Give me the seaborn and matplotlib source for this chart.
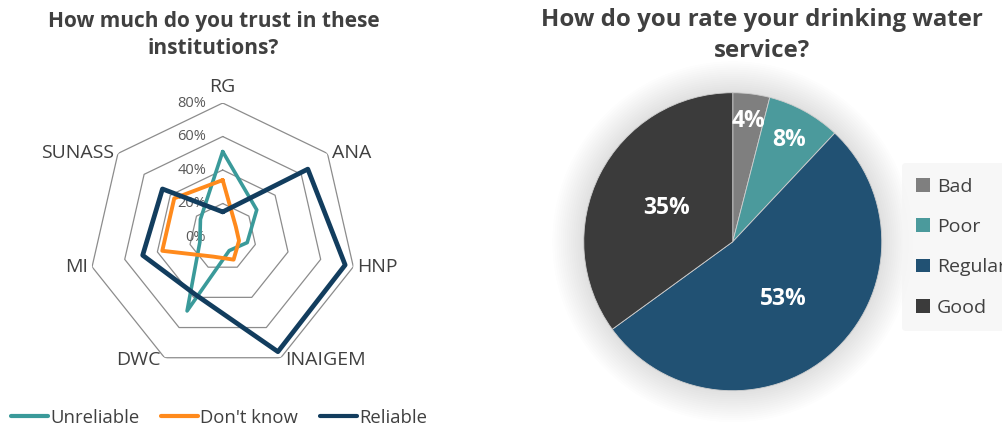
import numpy as np
import matplotlib
matplotlib.use("Agg")
import matplotlib.pyplot as plt
from matplotlib.lines import Line2D
from matplotlib.patches import Patch, Circle
import seaborn as sns

# radar data (% of answers per institution)
institutions = ["RG", "ANA", "HNP", "INAIGEM", "DWC", "MI", "SUNASS"]
unreliable = [51, 26, 15, 9, 49, 14, 17]
dont_know = [34, 10, 10, 15, 13, 37, 37]
reliable = [15, 65, 75, 76, 38, 49, 46]
ring_levels = [0, 20, 40, 60, 80]

# pie data
ratings = ["Bad", "Poor", "Regular", "Good"]
rating_share = [4, 8, 53, 35]

series = [
    ("Unreliable", unreliable, "#3a9a9a", 2.6),
    ("Don't know", dont_know, "#ff8a1c", 2.8),
    ("Reliable", reliable, "#123d5e", 3.4),
]
pie_colors = ["#7f7f7f", "#4b9a9c", "#215173", "#3b3b3b"]
text_col = "#404040"

sns.set_theme(style="white")
plt.rcParams["font.family"] = ["Open Sans", "DejaVu Sans"]

fig = plt.figure(figsize=(10.02, 4.29), dpi=100)

# ---- radar chart ----
ax = fig.add_axes([0.0885, 0.1352, 0.2675, 0.6247], projection="polar")
ax.set_theta_zero_location("N")
ax.set_theta_direction(-1)
ax.grid(False)
ax.spines["polar"].set_visible(False)
ax.patch.set_alpha(0)

n = len(institutions)
theta = np.linspace(0, 2 * np.pi, n, endpoint=False)
theta_closed = np.append(theta, 2 * np.pi)

for lvl in ring_levels[1:]:
    ax.plot(theta_closed, [lvl] * (n + 1), color="#8c8c8c", lw=0.9, zorder=1)

for lvl in ring_levels:
    ax.annotate(f"{lvl}%", xy=(0, lvl), xytext=(-12, 0), textcoords="offset points",
                ha="right", va="center", fontsize=10.5, color="#595959", zorder=2)

for name, vals, col, lw in series:
    sns.lineplot(x=theta_closed, y=list(vals) + [vals[0]], sort=False, color=col,
                 linewidth=lw, ax=ax, zorder=3)

ax.set_ylim(0, 80)
ax.set_xticks([])
ax.set_yticks([])
ax.set_xlabel("")
ax.set_ylabel("")

for th, lab in zip(theta, institutions):
    s = np.sin(th)
    if abs(s) < 0.1:
        ax.annotate(lab, xy=(th, 80), xytext=(0, 5), textcoords="offset points",
                    ha="center", va="bottom", fontsize=14, color=text_col)
    else:
        ha = "left" if s > 0 else "right"
        dy = -1.5 if np.cos(th) < -0.8 else 0
        ax.annotate(lab, xy=(th, 80), xytext=(3 * np.sign(s), dy), textcoords="offset points",
                    ha=ha, va="center", fontsize=14, color=text_col)

fig.text(0.213, 0.975, "How much do you trust in these\ninstitutions?", ha="center", va="top",
         fontsize=15, fontweight="bold", color=text_col, linespacing=1.38)

handles = [Line2D([], [], color=col, lw=3) for _, _, col, _ in series]
fig.legend(handles, [s[0] for s in series], loc="center left", bbox_to_anchor=(0.0, 0.026),
           ncol=3, frameon=False, fontsize=13.3, handlelength=2.0, handletextpad=0.1,
           columnspacing=1.2, borderaxespad=0.3, borderpad=0.3, labelcolor=text_col)

# ---- pie chart ----
pax = fig.add_axes([0.5454, 0.0024, 0.3718, 0.8683])
for k in range(16):
    pax.add_patch(Circle((0, 0), 1.0 + 0.014 * k, color="#7a7a7a", alpha=0.012, lw=0, zorder=0))

wedges, _, autotexts = pax.pie(rating_share, colors=pie_colors, startangle=90, counterclock=False,
                               autopct="%1.0f%%", pctdistance=0.5,
                               wedgeprops=dict(linewidth=0.6, edgecolor="#cfcfcf"),
                               textprops=dict(color="white", fontsize=16.5, fontweight="bold"))
label_r = [0.82, 0.78, 0.51, 0.5]
for w, t, r in zip(wedges, autotexts, label_r):
    mid = np.deg2rad((w.theta1 + w.theta2) / 2)
    t.set_position((r * np.cos(mid), r * np.sin(mid)))
pax.set_xlim(-1.25, 1.25)
pax.set_ylim(-1.25, 1.25)
pax.set_aspect("equal")

fig.text(0.760, 0.982, "How do you rate your drinking water\nservice?", ha="center", va="top",
         fontsize=17.3, fontweight="bold", color=text_col, linespacing=1.38)

leg = fig.legend([Patch(facecolor=c, edgecolor="none") for c in pie_colors], ratings,
                 loc="upper left", bbox_to_anchor=(0.900, 0.620), frameon=True, fontsize=14,
                 handlelength=0.7, handleheight=0.7, handletextpad=0.35, labelspacing=1.15,
                 borderpad=0.75, borderaxespad=0, labelcolor=text_col)
leg.get_frame().set_facecolor("#f5f5f5")
leg.get_frame().set_edgecolor("none")

fig.savefig("out.png", dpi=100)
